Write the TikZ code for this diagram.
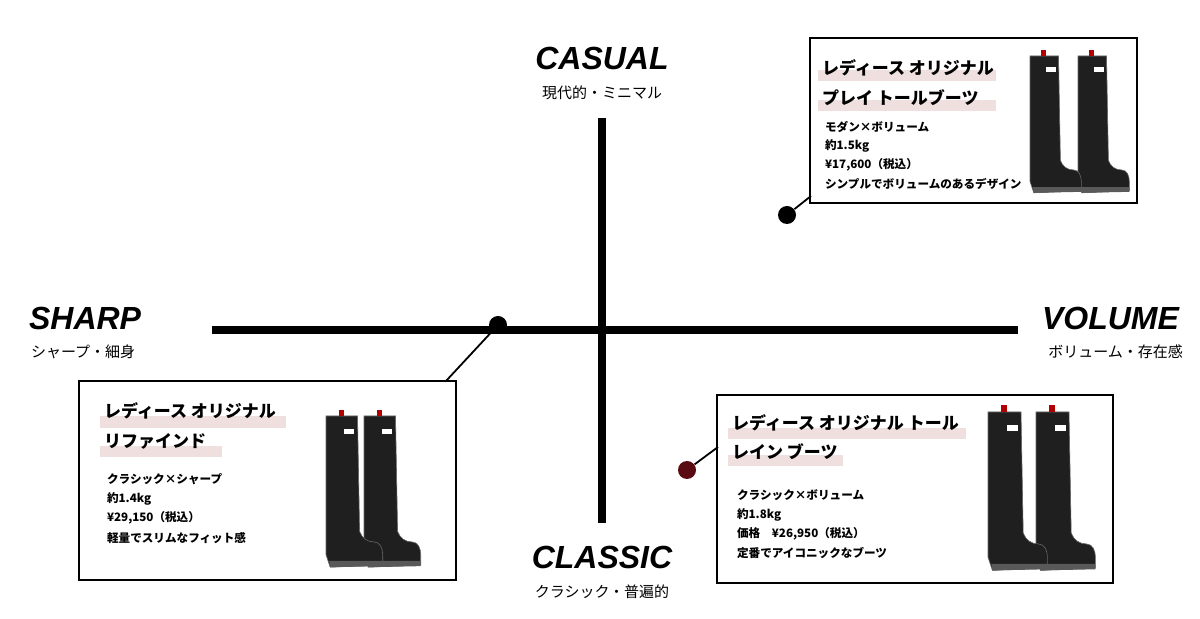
\documentclass[tikz,border=0pt]{standalone}
\usepackage{fontspec}
\setmainfont{Noto Sans CJK JP}
\newfontfamily\latinbold{Liberation Sans}
\usetikzlibrary{positioning}
\definecolor{hlpink}{HTML}{EFDFDF}
\definecolor{dotred}{HTML}{5A0A12}
\tikzset{
  axis/.style={line width=4pt},
  card/.style={draw, line width=1.3pt},
  pole/.style={font=\latinbold\bfseries\itshape\fontsize{16}{16}\selectfont},
  poleinfo/.style={font=\fontsize{7.5}{8}\selectfont},
  title/.style={anchor=west, font=\bfseries\fontsize{8.5}{9}\selectfont},
  info/.style={anchor=west, font=\bfseries\fontsize{5.8}{6}\selectfont},
  bar/.style={fill=hlpink},
  pin/.style={circle, fill=black, inner sep=0pt, minimum size=9pt},
  lead/.style={line width=0.9pt},
  pics/boot/.style={code={
    \fill[black!88, draw=black!60, line width=0.3pt] (0,0) -- (30,0) -- (32,110) to[out=-70,in=180] (46,120)
      to[out=0,in=90] (54,132) -- (54,142) -- (4,144) -- (0,132) -- cycle;
    \fill[black!65] (3,138) -- (54,138) -- (54,143) -- (4,144) -- cycle;
    \fill[red!70!black] (12,-6) rectangle (17,0);
    \fill[white] (17,12) rectangle (27,17);
  }}
}
\begin{document}
\begin{tikzpicture}[x=0.5pt,y=-0.5pt]
  \useasboundingbox (0,0) rectangle (1200,619);
  % axes
  \coordinate (top) at (602,118);
  \coordinate (bottom) at (602,523);
  \coordinate (left) at (212,330);
  \coordinate (right) at (1018,330);
  \draw[axis] (top) -- (bottom);
  \draw[axis] (left) -- (right);
  % poles
  \node[pole] (casual) at (602,58) {CASUAL};
  \node[poleinfo, below=1pt of casual] (casualinfo) {現代的・ミニマル};
  \node[pole] (classic) at (602,557) {CLASSIC};
  \node[poleinfo, below=1pt of classic] (classicinfo) {クラシック・普遍的};
  \node[pole, anchor=west] (sharp) at (22,318) {SHARP};
  \node[poleinfo, anchor=west] (sharpinfo) at (24,352) {シャープ・細身};
  \node[pole, anchor=east] (volume) at (1186,318) {VOLUME};
  \node[poleinfo, anchor=east] (volumeinfo) at (1190,352) {ボリューム・存在感};

  % play tall boots
  \draw[card] (810,38) rectangle (1137,203);
  \coordinate (playcorner) at (811,196);
  \fill[bar] (818,70) rectangle (996,81);
  \fill[bar] (818,100) rectangle (996,111);
  \node[title] (playA) at (815,68) {レディース オリジナル};
  \node[title] (playB) at (815,98) {プレイ トールブーツ};
  \node[info] (play1) at (818,127) {モダン×ボリューム};
  \node[info] (play2) at (818,146) {約1.5kg};
  \node[info] (play3) at (818,165) {¥17,600（税込）};
  \node[info] (play4) at (818,184) {シンプルでボリュームのあるデザイン};
  \pic[scale=0.95] at (1078,56) {boot};
  \pic[scale=0.95] at (1030,56) {boot};
  \node[pin] (playpin) at (787,215) {};
  \draw[lead] (playpin) -- (playcorner);

  % refined boots
  \draw[card] (79,381) rectangle (456,580);
  \coordinate (refcorner) at (446,381);
  \fill[bar] (100,416) rectangle (286,428);
  \fill[bar] (100,446) rectangle (222,457);
  \node[title] (refA) at (97,411) {レディース オリジナル};
  \node[title] (refB) at (97,441) {リファインド};
  \node[info] (ref1) at (100,479) {クラシック×シャープ};
  \node[info] (ref2) at (100,499) {約1.4kg};
  \node[info] (ref3) at (100,518) {¥29,150（税込）};
  \node[info] (ref4) at (100,538) {軽量でスリムなフィット感};
  \pic[scale=1.05] at (364,416) {boot};
  \pic[scale=1.05] at (326,416) {boot};
  \node[pin] (refpin) at (498,325) {};
  \draw[lead] (refpin) -- (refcorner);

  % original tall boots
  \draw[card] (717,395) rectangle (1113,583);
  \coordinate (tallcorner) at (718,447);
  \fill[bar] (728,428) rectangle (966,439);
  \fill[bar] (728,455) rectangle (843,466);
  \node[title] (tallA) at (725,423) {レディース オリジナル トール};
  \node[title] (tallB) at (725,452) {レイン ブーツ};
  \node[info] (tall1) at (730,495) {クラシック×ボリューム};
  \node[info] (tall2) at (730,515) {約1.8kg};
  \node[info] (tall3) at (730,534) {価格　¥26,950（税込）};
  \node[info] (tall4) at (730,553) {定番でアイコニックなブーツ};
  \pic[scale=1.1] at (1036,412) {boot};
  \pic[scale=1.1] at (988,412) {boot};
  \node[pin, fill=dotred] (tallpin) at (687,470) {};
  \draw[lead] (tallpin) -- (tallcorner);
\end{tikzpicture}
\end{document}
